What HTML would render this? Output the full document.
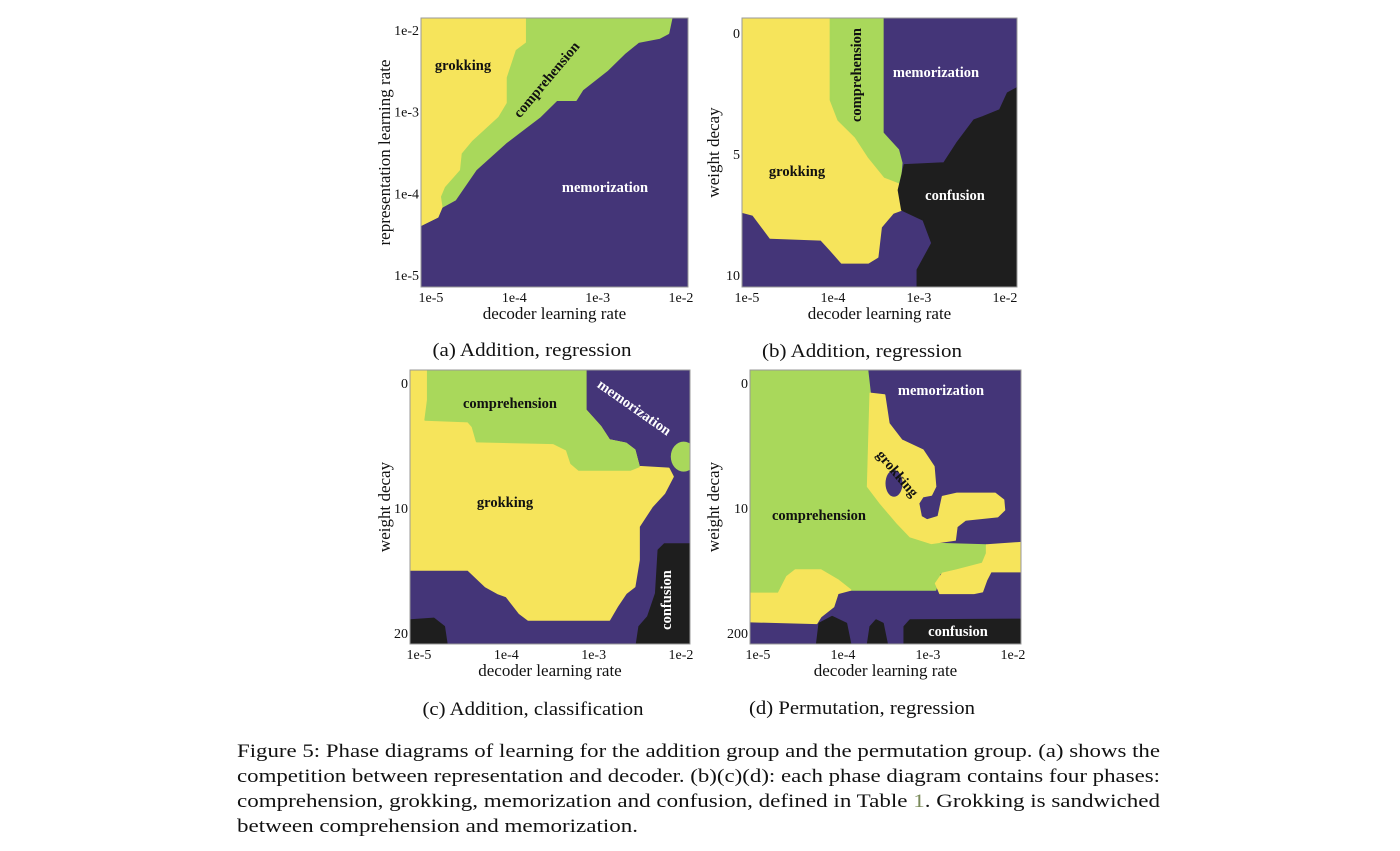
<!DOCTYPE html>
<html><head><meta charset="utf-8"><style>
html,body{margin:0;padding:0;background:#fff;}
svg{display:block;font-family:"Liberation Serif","DejaVu Serif",serif;}
.tick{font-size:14px;fill:#111;}
.axl{font-size:17px;fill:#111;}
.cap{font-size:19px;fill:#111;}
.lab{font-size:14.5px;font-weight:bold;}
</style></head><body>
<svg id="fig" width="1400" height="851" viewBox="0 0 1400 851" xmlns="http://www.w3.org/2000/svg">
<g id="panels"></g>
<g class="cap">
<text x="237" y="757" textLength="923" lengthAdjust="spacingAndGlyphs">Figure 5: Phase diagrams of learning for the addition group and the permutation group. (a) shows the</text>
<text x="237" y="782" textLength="923" lengthAdjust="spacingAndGlyphs">competition between representation and decoder. (b)(c)(d): each phase diagram contains four phases:</text>
<text x="237" y="807" textLength="923" lengthAdjust="spacingAndGlyphs">comprehension, grokking, memorization and confusion, defined in Table <tspan fill="#7a8a5a">1</tspan>. Grokking is sandwiched</text>
<text x="237" y="832" textLength="401" lengthAdjust="spacingAndGlyphs">between comprehension and memorization.</text>
</g>
</svg>
<script>
// ---- data: phase-region boundaries [log10(decoder lr), y-value] ----
const xTicks = [-5, -4, -3, -2];
const xTickLabels = ["1e-5", "1e-4", "1e-3", "1e-2"];
const aYTicks = [-2, -3, -4, -5];
const aYTickLabels = ["1e-2", "1e-3", "1e-4", "1e-5"];
const bYTicks = [0, 5, 10];
const cYTicks = [0, 10, 20];
const dYTicks = [0, 100, 200];
const dYTickLabels = ["0", "10", "200"];

const aGreen = [[-5.12,-1.85],[-2.11,-1.85],[-2.15,-2.04],[-2.26,-2.10],[-2.51,-2.15],[-2.67,-2.28],[-2.88,-2.49],[-3.18,-2.73],[-3.26,-2.86],[-3.49,-2.86],[-3.69,-3.06],[-4.10,-3.38],[-4.46,-3.71],[-4.71,-4.08],[-4.87,-4.17],[-4.92,-4.29],[-5.12,-4.39]];
const aYellow = [[-5.12,-1.85],[-3.87,-1.85],[-3.87,-2.15],[-3.99,-2.24],[-4.10,-2.58],[-4.10,-2.89],[-4.20,-3.06],[-4.51,-3.35],[-4.64,-3.51],[-4.66,-3.71],[-4.84,-3.92],[-4.89,-4.04],[-4.87,-4.17],[-4.92,-4.29],[-5.12,-4.39]];

const bYellow = [[-5.06,-0.62],[-4.03,-0.62],[-4.03,2.77],[-3.94,3.60],[-3.74,4.30],[-3.59,5.12],[-3.40,5.95],[-3.24,6.20],[-3.24,6.49],[-3.20,7.31],[-3.30,7.44],[-3.44,8.02],[-3.48,9.26],[-3.59,9.50],[-3.90,9.50],[-4.03,8.97],[-4.14,8.55],[-4.73,8.47],[-4.93,7.52],[-5.06,7.40]];
const bGreen = [[-4.03,-0.62],[-3.42,-0.62],[-3.42,4.13],[-3.24,4.83],[-3.20,5.37],[-3.22,6.20],[-3.40,5.95],[-3.59,5.12],[-3.74,4.30],[-3.94,3.60],[-4.03,2.77]];
const bBlack = [[-1.86,2.27],[-1.97,2.48],[-2.06,3.18],[-2.26,3.47],[-2.36,3.60],[-2.56,4.55],[-2.71,5.37],[-3.17,5.45],[-3.24,6.49],[-3.20,7.31],[-2.95,7.73],[-2.85,8.68],[-3.02,9.79],[-3.02,10.5],[-1.86,10.5]];

const cYellow = [[-5.10,-1.04],[-3.09,-1.04],[-3.09,2.16],[-2.92,3.49],[-2.82,4.56],[-2.63,4.83],[-2.53,5.36],[-2.48,6.69],[-2.14,6.83],[-2.09,7.49],[-2.19,8.83],[-2.33,9.89],[-2.48,11.49],[-2.48,14.16],[-2.53,16.29],[-2.63,16.83],[-2.73,17.89],[-2.82,18.96],[-3.75,18.96],[-3.85,18.43],[-4.00,17.09],[-4.10,16.83],[-4.24,16.29],[-4.44,14.96],[-5.10,14.96]];
const cGreen = [[-4.90,-1.04],[-3.09,-1.04],[-3.09,2.16],[-2.92,3.49],[-2.82,4.56],[-2.63,4.83],[-2.53,5.36],[-2.48,6.69],[-2.58,6.96],[-3.17,6.96],[-3.26,6.43],[-3.31,5.36],[-3.46,4.83],[-4.34,4.69],[-4.39,3.49],[-4.44,3.09],[-4.93,2.96],[-4.90,1.36]];
const cGreenBlob = [-1.97, 5.89, 0.147, 1.2];
const cBlack = [[-1.89,12.88],[-2.19,12.88],[-2.26,13.36],[-2.29,16.83],[-2.38,18.69],[-2.48,19.49],[-2.51,20.88],[-1.89,20.88]];
const cBlack2 = [[-5.10,18.96],[-4.83,18.83],[-4.71,19.49],[-4.68,20.88],[-5.10,20.88]];

const dGreen = [[-5.09,-9.9],[-3.71,-9.9],[-3.68,8.3],[-3.71,82.9],[-3.56,96.3],[-3.36,112.3],[-3.21,122.9],[-2.96,128.3],[-2.31,129.6],[-2.31,144.3],[-2.66,149.6],[-2.86,152.3],[-2.91,165.6],[-3.91,165.6],[-4.06,157.6],[-4.26,149.6],[-4.56,149.6],[-4.66,154.9],[-4.76,168.3],[-5.09,168.3]];
const dYellowBlob = [[-3.68,8.3],[-3.51,9.6],[-3.46,32.3],[-3.31,45.6],[-3.06,53.6],[-2.93,66.9],[-2.91,82.9],[-2.96,89.6],[-3.06,90.9],[-3.11,96.3],[-3.08,106.9],[-3.01,109.6],[-2.88,106.9],[-2.83,90.9],[-2.66,88.3],[-2.21,88.3],[-2.11,93.6],[-2.10,101.6],[-2.18,106.9],[-2.56,109.6],[-2.66,114.9],[-2.68,125.6],[-2.96,128.3],[-3.21,122.9],[-3.36,112.3],[-3.56,96.3],[-3.71,82.9]];
const dHole = [-3.40, 80.3, 0.1, 10.7];
const dYellowRight = [[-2.31,129.6],[-1.90,127.7],[-1.90,150.9],[-2.26,150.9],[-2.31,157.6],[-2.36,166.9],[-2.46,168.3],[-2.86,168.3],[-2.91,160.3],[-2.83,152.3],[-2.66,149.6],[-2.36,144.3],[-2.31,136.3]];
const dYellowLeft = [[-5.09,168.3],[-4.76,168.3],[-4.66,154.9],[-4.56,149.6],[-4.26,149.6],[-4.06,157.6],[-3.91,165.6],[-4.06,168.3],[-4.11,178.9],[-4.26,186.9],[-4.31,192.3],[-5.09,190.9]];
const dBlack1 = [[-3.28,208.8],[-3.28,194.9],[-3.21,189.6],[-1.90,189.1],[-1.90,208.8]];
const dBlack2 = [[-4.31,208.8],[-4.28,192.3],[-4.13,186.9],[-3.96,192.3],[-3.91,208.8]];
const dBlack3 = [[-3.71,208.8],[-3.68,194.9],[-3.61,189.6],[-3.53,192.3],[-3.48,208.8]];

const YEL="#f6e45b", GRN="#a9d85b", PUR="#443578", BLK="#1e1e1e";
const NS="http://www.w3.org/2000/svg";
const root=document.getElementById('panels');
function mk(tag,attrs,parent){const e=document.createElementNS(NS,tag);for(const k in attrs)e.setAttribute(k,attrs[k]);parent.appendChild(e);return e;}

function panel(cfg){
  const g=mk('g',{},root);
  
  
  const sx=v=>cfg.xp0+(v-(-5))*(cfg.xp1-cfg.xp0)/3;
  const sy=v=>cfg.yp0+(v-cfg.yv0)*(cfg.yp1-cfg.yp0)/(cfg.yv1-cfg.yv0);
  const cid='clip-'+cfg.name;
  const cp=mk('clipPath',{id:cid},g);
  mk('rect',{x:cfg.L,y:cfg.T,width:cfg.R-cfg.L,height:cfg.B-cfg.T},cp);
  const plot=mk('g',{'clip-path':'url(#'+cid+')'},g);
  const bg=mk('rect',{x:cfg.L,y:cfg.T,width:cfg.R-cfg.L,height:cfg.B-cfg.T,fill:PUR},plot);
  
  
  cfg.regions.forEach(r=>{
    let el;
    if(r.ell){
      el=mk('ellipse',{cx:sx(r.ell[0]),cy:sy(r.ell[1]),rx:Math.abs(sx(r.ell[0]+r.ell[2])-sx(r.ell[0])),ry:Math.abs(sy(r.ell[1]+r.ell[3])-sy(r.ell[1])),fill:r.fill},plot);
    } else {
      el=mk('polygon',{points:r.pts.map(p=>sx(p[0]).toFixed(1)+','+sy(p[1]).toFixed(1)).join(' '),fill:r.fill,stroke:r.fill,'stroke-width':1.5,'stroke-linejoin':'round'},plot);
    }
    
    
  });
  const fr=mk('rect',{x:cfg.L,y:cfg.T,width:cfg.R-cfg.L,height:cfg.B-cfg.T,fill:'none',stroke:'#999','stroke-width':1},g);
  
  
  xTicks.forEach((v,i)=>{
    const t=mk('text',{x:sx(v),y:cfg.B+15,'text-anchor':'middle',class:'tick'},g);
    t.textContent=xTickLabels[i];
    
    
  });
  cfg.yTicks.forEach((v,i)=>{
    const t=mk('text',{x:cfg.L-2,y:sy(v)+5,'text-anchor':'end',class:'tick'},g);
    t.textContent=cfg.yLabels?cfg.yLabels[i]:String(v);
    
    
  });
  const xl=mk('text',{x:(cfg.L+cfg.R)/2,y:cfg.B+32,'text-anchor':'middle',class:'axl'},g);
  xl.textContent='decoder learning rate';
  
  
  const yx=cfg.ylx, yy=(cfg.T+cfg.B)/2;
  const yl=mk('text',{x:yx,y:yy,'text-anchor':'middle',class:'axl',transform:'rotate(-90 '+yx+' '+yy+')'},g);
  yl.textContent=cfg.ytitle;
  
  
  cfg.labels.forEach(l=>{
    const t=mk('text',{x:l[1],y:l[2],'text-anchor':'middle','dominant-baseline':'central',class:'lab',fill:l[3],transform:'rotate('+(l[4]||0)+' '+l[1]+' '+l[2]+')'},g);
    t.textContent=l[0];
    
    
  });
  const st=mk('text',{x:cfg.subx-cfg.subw/2,y:cfg.suby,class:'cap',textLength:cfg.subw,lengthAdjust:'spacingAndGlyphs'},g);
  st.textContent=cfg.sub;
  
  
}

panel({name:'panel-a',L:421,T:18,R:688,B:287,xp0:431,xp1:681,yv0:-2,yv1:-5,yp0:30,yp1:275,yTicks:aYTicks,yLabels:aYTickLabels,ylx:390,ytitle:'representation learning rate',
  regions:[{name:'comprehension-region',pts:aGreen,fill:GRN},{name:'grokking-region',pts:aYellow,fill:YEL}],
  labels:[['grokking',463,66,'#111',0],['comprehension',547,80,'#111',-50],['memorization',605,188,'#fff',0]],
  sub:'(a) Addition, regression',subx:532,subw:199,suby:356});
panel({name:'panel-b',L:742,T:18,R:1017,B:287,xp0:747,xp1:1005,yv0:0,yv1:10,yp0:33,yp1:275,yTicks:bYTicks,ylx:719,ytitle:'weight decay',
  regions:[{name:'grokking-region',pts:bYellow,fill:YEL},{name:'comprehension-region',pts:bGreen,fill:GRN},{name:'confusion-region',pts:bBlack,fill:BLK}],
  labels:[['comprehension',857,75,'#111',-90],['memorization',936,73,'#fff',0],['grokking',797,172,'#111',0],['confusion',955,196,'#fff',0]],
  sub:'(b) Addition, regression',subx:862,subw:200,suby:357});
panel({name:'panel-c',L:410,T:370,R:690,B:644,xp0:419,xp1:681,yv0:0,yv1:20,yp0:383,yp1:633,yTicks:cYTicks,ylx:390,ytitle:'weight decay',
  regions:[{name:'grokking-region',pts:cYellow,fill:YEL},{name:'comprehension-region',pts:cGreen,fill:GRN},{name:'comprehension-blob',ell:cGreenBlob,fill:GRN},{name:'confusion-region',pts:cBlack,fill:BLK},{name:'confusion-corner',pts:cBlack2,fill:BLK}],
  labels:[['comprehension',510,404,'#111',0],['memorization',634,408,'#fff',35],['grokking',505,503,'#111',0],['confusion',667,600,'#fff',-90]],
  sub:'(c) Addition, classification',subx:533,subw:221,suby:715});
panel({name:'panel-d',L:750,T:370,R:1021,B:644,xp0:758,xp1:1013,yv0:0,yv1:200,yp0:383,yp1:633,yTicks:dYTicks,yLabels:dYTickLabels,ylx:719,ytitle:'weight decay',
  regions:[{name:'comprehension-region',pts:dGreen,fill:GRN},{name:'grokking-region',pts:dYellowBlob,fill:YEL},{name:'grokking-hole',ell:dHole,fill:PUR},{name:'grokking-right',pts:dYellowRight,fill:YEL},{name:'grokking-left',pts:dYellowLeft,fill:YEL},{name:'confusion-region',pts:dBlack1,fill:BLK},{name:'confusion-blob',pts:dBlack2,fill:BLK},{name:'confusion-small',pts:dBlack3,fill:BLK}],
  labels:[['memorization',941,391,'#fff',0],['grokking',897,474,'#111',50],['comprehension',819,516,'#111',0],['confusion',958,632,'#fff',0]],
  sub:'(d) Permutation, regression',subx:862,subw:226,suby:714});
</script>
</body></html>
